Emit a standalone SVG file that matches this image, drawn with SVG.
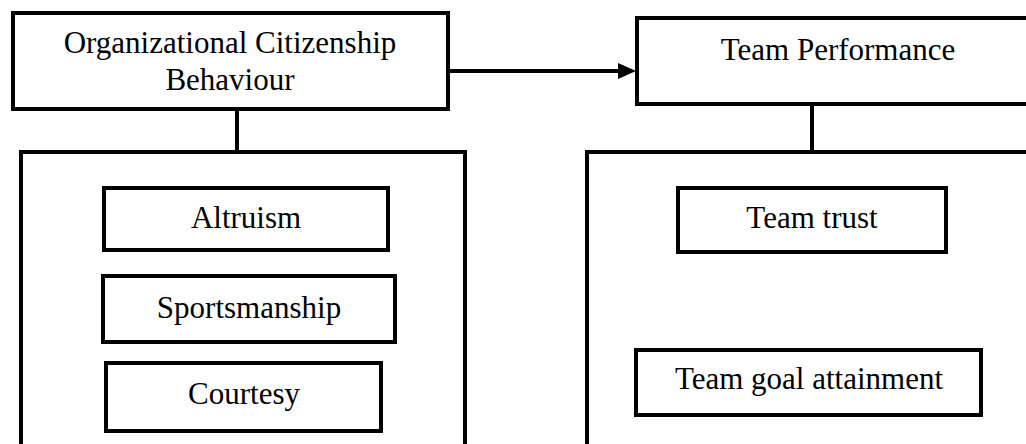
<svg xmlns="http://www.w3.org/2000/svg" width="1026" height="444" viewBox="0 0 1026 444">
<style>
.box{fill:#fff;stroke:#000;stroke-width:4}
.frame{fill:none;stroke:#000;stroke-width:4}
.lbl{font-family:"Liberation Serif","Times New Roman",serif;font-size:31px;fill:#000;text-anchor:middle}
.ln{stroke:#000;stroke-width:4;fill:none}
</style>
<rect width="1026" height="444" fill="#fff"/>
<g id="connectors">
<line class="ln" x1="450" y1="71" x2="620" y2="71"/>
<polygon points="618,63 636,71 618,79" fill="#000"/>
<line class="ln" x1="237" y1="111" x2="237" y2="152"/>
<line class="ln" x1="812" y1="106" x2="812" y2="152"/>
</g>
<g id="ocb">
<rect class="box" x="13" y="13" width="435" height="96"/>
<text class="lbl" x="230" y="53">Organizational Citizenship</text>
<text class="lbl" x="230" y="90">Behaviour</text>
</g>
<g id="tp">
<rect class="box" x="637" y="18" width="410" height="86"/>
<text class="lbl" x="838" y="60">Team Performance</text>
</g>
<g id="ocb-group">
<rect class="frame" x="21" y="152" width="444" height="320"/>
</g>
<g id="tp-group">
<rect class="frame" x="587" y="152" width="500" height="320"/>
</g>
<g id="altruism">
<rect class="box" x="104" y="188" width="284" height="62"/>
<text class="lbl" x="246" y="228">Altruism</text>
</g>
<g id="sportsmanship">
<rect class="box" x="103" y="276" width="292" height="66"/>
<text class="lbl" x="249" y="318">Sportsmanship</text>
</g>
<g id="courtesy">
<rect class="box" x="106" y="363" width="275" height="68"/>
<text class="lbl" x="244" y="404">Courtesy</text>
</g>
<g id="team-trust">
<rect class="box" x="678" y="188" width="268" height="64"/>
<text class="lbl" x="812" y="228">Team trust</text>
</g>
<g id="team-goal">
<rect class="box" x="636" y="350" width="345" height="65"/>
<text class="lbl" x="809" y="389">Team goal attainment</text>
</g>
</svg>
